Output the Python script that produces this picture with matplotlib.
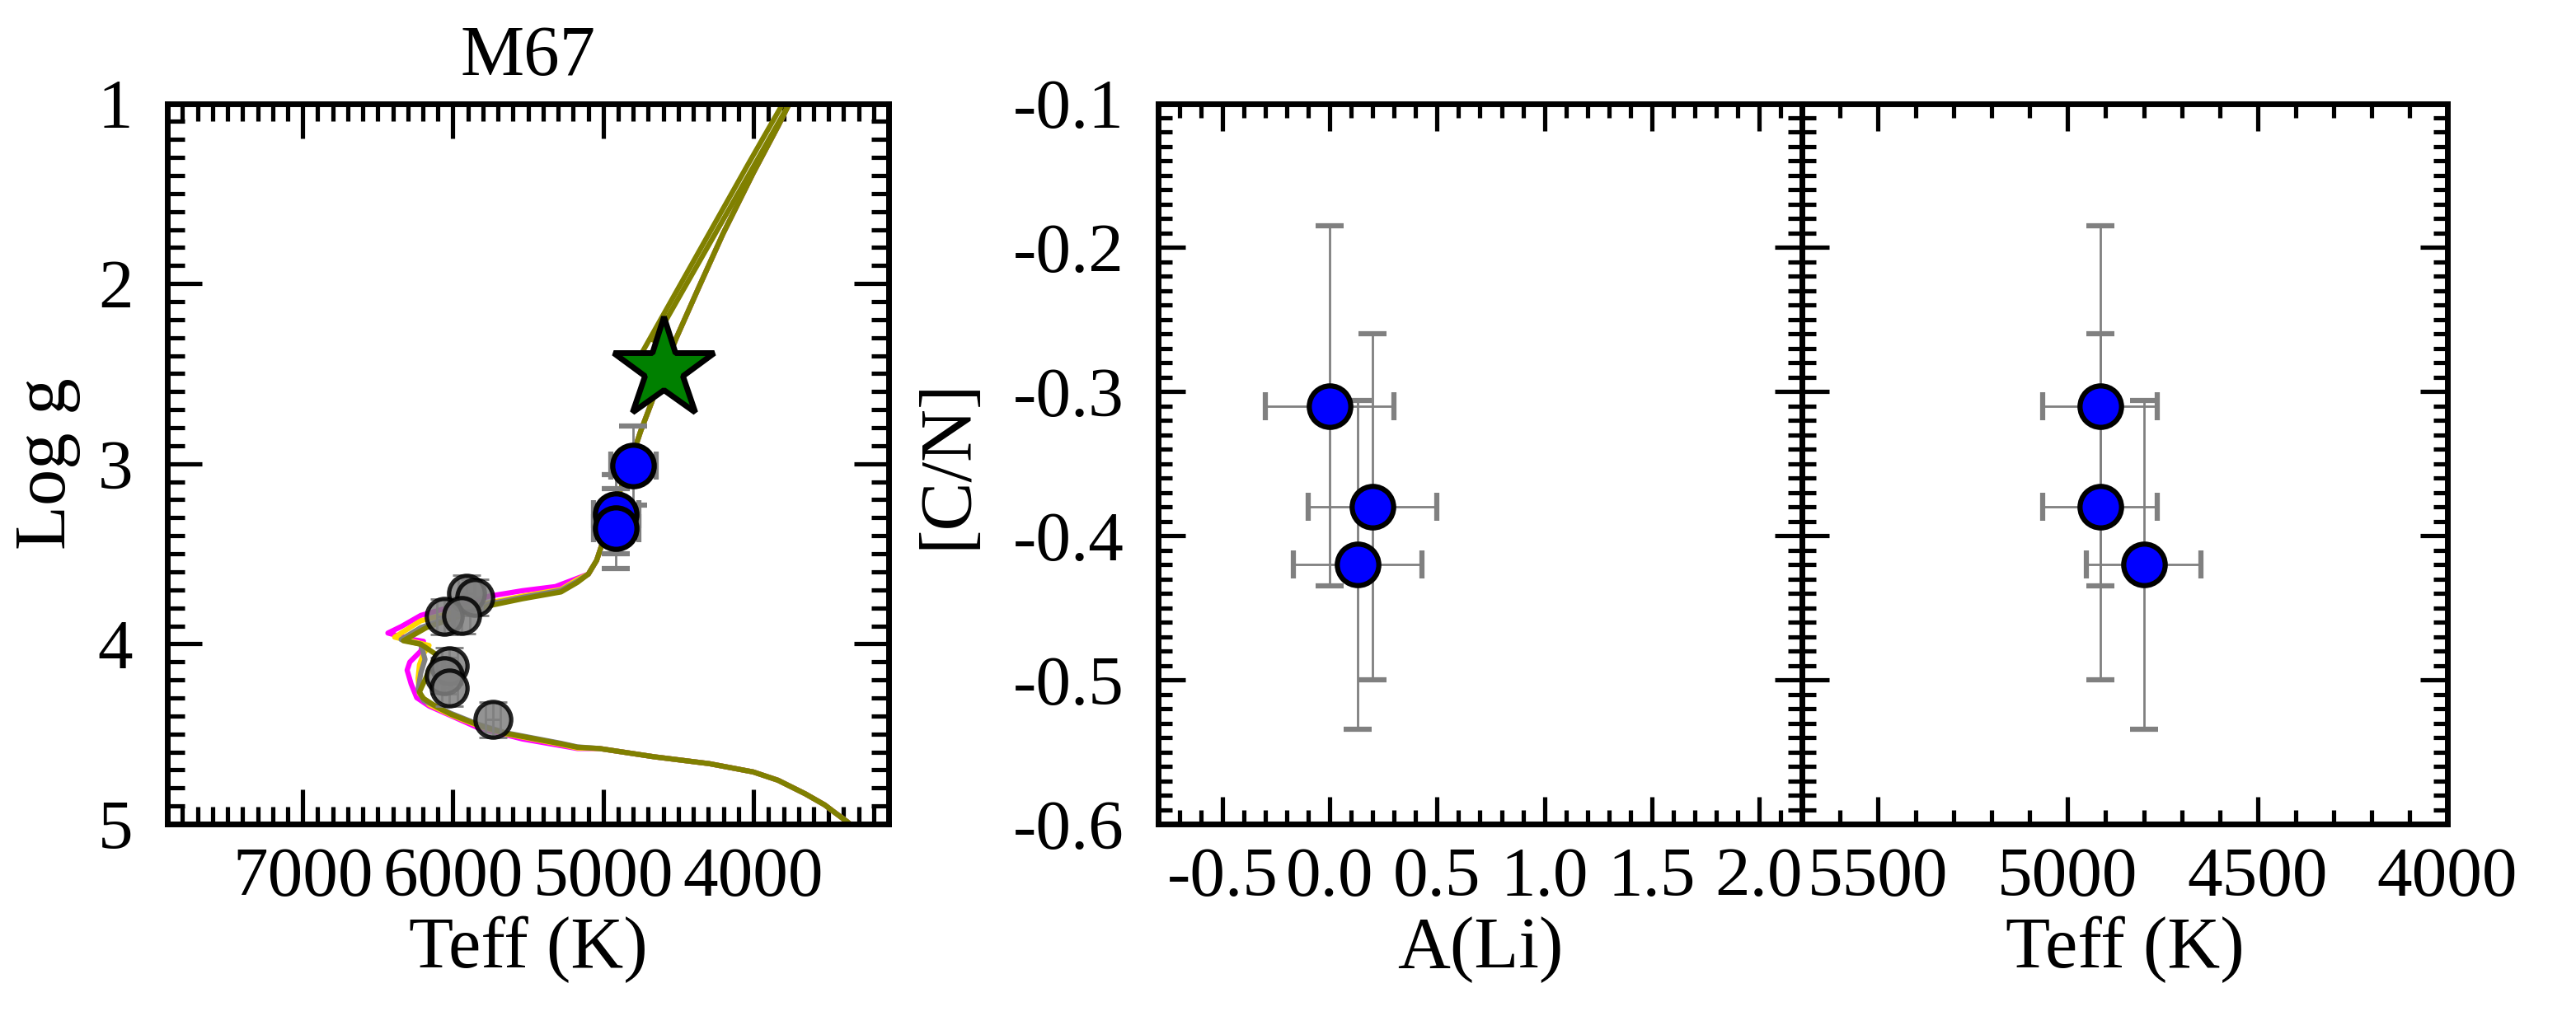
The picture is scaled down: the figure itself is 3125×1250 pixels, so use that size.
import matplotlib.pyplot as plt
from matplotlib.ticker import MultipleLocator, FormatStrFormatter

plt.rcParams['font.family'] = ['Liberation Serif', 'DejaVu Serif']
plt.rcParams['axes.unicode_minus'] = False

# --- isochrones (Teff, logg) ---
# cool main sequence, shared by all isochrones
ms_teff = [3300, 3380, 3453, 3526, 3654, 3837, 4002, 4294, 4660, 5025]
ms_logg = [5.04, 4.985, 4.94, 4.894, 4.833, 4.757, 4.711, 4.665, 4.627, 4.581]

# turnoff / subgiant part, one per isochrone
mag_teff = [5172, 5538, 5830, 5994, 6159, 6241, 6278, 6305, 6287, 6214, 6196,
            6269, 6433, 6342, 6214, 5757, 5538, 5318, 5172]
mag_logg = [4.581, 4.528, 4.467, 4.406, 4.345, 4.299, 4.223, 4.146, 4.101, 4.040,
            3.986, 3.976, 3.940, 3.903, 3.842, 3.735, 3.705, 3.682, 3.636]
gold_teff = [5172, 5281, 5647, 5830, 6013, 6100, 6159, 6223, 6232, 6223, 6196,
             6159, 6269, 6388, 6214, 5757, 5538, 5281, 5172]
gold_logg = [4.578, 4.558, 4.50, 4.455, 4.395, 4.36, 4.337, 4.276, 4.192, 4.116,
             4.055, 4.009, 3.986, 3.963, 3.872, 3.772, 3.735, 3.698, 3.643]
grey_teff = [5172, 5281, 5647, 5830, 6013, 6104, 6196, 6232, 6214, 6186, 6214,
             6345, 6214, 5757, 5538, 5281, 5172]
grey_logg = [4.572, 4.552, 4.494, 4.447, 4.386, 4.350, 4.314, 4.253, 4.162, 4.086,
             4.002, 3.976, 3.910, 3.778, 3.742, 3.703, 3.652]
olive_teff = [5172, 5281, 5647, 5830, 6013, 6104, 6196, 6223, 6170, 6110, 6214,
              6330, 6250, 6177, 5757, 5538, 5281, 5172]
olive_logg = [4.574, 4.555, 4.497, 4.451, 4.391, 4.352, 4.303, 4.268, 4.17, 4.06,
              4.002, 3.983, 3.945, 3.910, 3.788, 3.750, 3.712, 3.659]

# subgiant + red giant branch, shared
rgb_teff = [5099, 5044, 5007, 4960, 4897, 4824, 4751, 4678, 4623, 4513, 4367,
            4202, 4002, 3837, 3764, 3650]
rgb_logg = [3.613, 3.537, 3.445, 3.32, 3.171, 3.003, 2.820, 2.66, 2.53, 2.301,
            2.027, 1.722, 1.387, 1.127, 1.005, 0.82]

# clump / AGB branches
hb_teff = [4780, 4038, 3735]
hb_logg = [2.44, 1.341, 0.9]
agb_teff = [4660, 4000, 3764, 3650]
agb_logg = [2.317, 1.35, 1.005, 0.82]

iso_colors = ['magenta', 'gold', 'grey', 'olive']

# --- stars ---
dwarf_teff = [5735, 5912, 5857, 6059, 5940, 6022, 6059, 6022]
dwarf_logg = [4.421, 3.720, 3.742, 3.849, 3.842, 4.123, 4.177, 4.246]
dwarf_teff_err = [50] * 8
dwarf_logg_err = [0.1] * 8

giant_teff = [4915, 4915, 4800]
giant_teff_err = [150, 150, 150]
giant_logg = [3.28, 3.36, 3.01]
giant_logg_err = [0.22, 0.22, 0.22]
giant_ali = [0.0, 0.2, 0.13]
giant_ali_err = [0.3, 0.3, 0.3]
giant_cn = [-0.31, -0.38, -0.42]
giant_cn_err = [0.125, 0.12, 0.114]

target_teff = [4600]
target_logg = [2.475]


def style(ax, major, minor):
    ax.tick_params(which='both', direction='in', top=True, right=True,
                   width=1.5, labelsize=24.5)
    ax.tick_params(which='major', length=major)
    ax.tick_params(which='minor', length=minor)
    ax.tick_params(axis='x', pad=8)
    ax.tick_params(axis='y', pad=12)
    for s in ax.spines.values():
        s.set_linewidth(2)


fig = plt.figure(figsize=(12.5, 5), dpi=250)
ax1 = fig.add_axes([0.065, 0.2, 0.28, 0.6996])
ax2 = fig.add_axes([0.4496, 0.2, 0.2499, 0.6996])
ax3 = fig.add_axes([0.6995, 0.2, 0.2506, 0.6996])

# Kiel diagram
turnoffs = [(mag_teff, mag_logg), (gold_teff, gold_logg),
            (grey_teff, grey_logg), (olive_teff, olive_logg)]
for (tt, gg), c in zip(turnoffs, iso_colors):
    ax1.plot(ms_teff + tt + rgb_teff, ms_logg + gg + rgb_logg, color=c, lw=1.8)
ax1.plot(hb_teff, hb_logg, color='olive', lw=1.8)
ax1.plot(agb_teff, agb_logg, color='olive', lw=1.8)

ax1.errorbar(dwarf_teff, dwarf_logg, xerr=dwarf_teff_err, yerr=dwarf_logg_err,
             fmt='none', ecolor='grey', elinewidth=0.8, capsize=5, capthick=0.8)
ax1.plot(dwarf_teff, dwarf_logg, 'o', ms=12.5, mfc='grey', mec='black', mew=1.5,
         alpha=0.85)
ax1.errorbar(giant_teff, giant_logg, xerr=giant_teff_err, yerr=giant_logg_err,
             fmt='o', ms=14.5, mfc='blue', mec='black', mew=1.8, ecolor='grey',
             elinewidth=0.8, capsize=5, capthick=0.8)
ax1.plot(target_teff, target_logg, '*', ms=37, mfc='green', mec='black', mew=2)

ax1.set_xlim(7900, 3100)
ax1.set_ylim(5, 1)
ax1.xaxis.set_major_locator(MultipleLocator(1000))
ax1.xaxis.set_minor_locator(MultipleLocator(100))
ax1.yaxis.set_major_locator(MultipleLocator(1))
ax1.yaxis.set_minor_locator(MultipleLocator(0.1))
style(ax1, 12, 6)
ax1.set_xlabel('Teff (K)', fontsize=25.5, labelpad=2)
ax1.set_ylabel('Log g', fontsize=25.5, labelpad=6)
ax1.set_title('M67', fontsize=25, pad=10)

# [C/N] vs A(Li)
ax2.errorbar(giant_ali, giant_cn, xerr=giant_ali_err, yerr=giant_cn_err,
             fmt='o', ms=14.5, mfc='blue', mec='black', mew=1.8, ecolor='grey',
             elinewidth=0.8, capsize=5, capthick=0.8)
ax2.set_xlim(-0.8, 2.2)
ax2.set_ylim(-0.6, -0.1)
ax2.xaxis.set_major_locator(MultipleLocator(0.5))
ax2.xaxis.set_minor_locator(MultipleLocator(0.1))
ax2.yaxis.set_major_locator(MultipleLocator(0.1))
ax2.yaxis.set_minor_locator(MultipleLocator(0.01))
ax2.xaxis.set_major_formatter(FormatStrFormatter('%.1f'))
ax2.yaxis.set_major_formatter(FormatStrFormatter('%.1f'))
style(ax2, 9.5, 5)
ax2.set_xlabel('A(Li)', fontsize=25.5, labelpad=2)
ax2.set_ylabel('[C/N]', fontsize=25.5, labelpad=11)

# [C/N] vs Teff
ax3.errorbar(giant_teff, giant_cn, xerr=giant_teff_err, yerr=giant_cn_err,
             fmt='o', ms=14.5, mfc='blue', mec='black', mew=1.8, ecolor='grey',
             elinewidth=0.8, capsize=5, capthick=0.8)
ax3.set_xlim(5700, 4000)
ax3.set_ylim(-0.6, -0.1)
ax3.xaxis.set_major_locator(MultipleLocator(500))
ax3.xaxis.set_minor_locator(MultipleLocator(100))
ax3.yaxis.set_major_locator(MultipleLocator(0.1))
ax3.yaxis.set_minor_locator(MultipleLocator(0.01))
style(ax3, 9.5, 5)
ax3.tick_params(labelleft=False)
ax3.set_xlabel('Teff (K)', fontsize=25.5, labelpad=2)

fig.savefig('out.png', dpi=250)
